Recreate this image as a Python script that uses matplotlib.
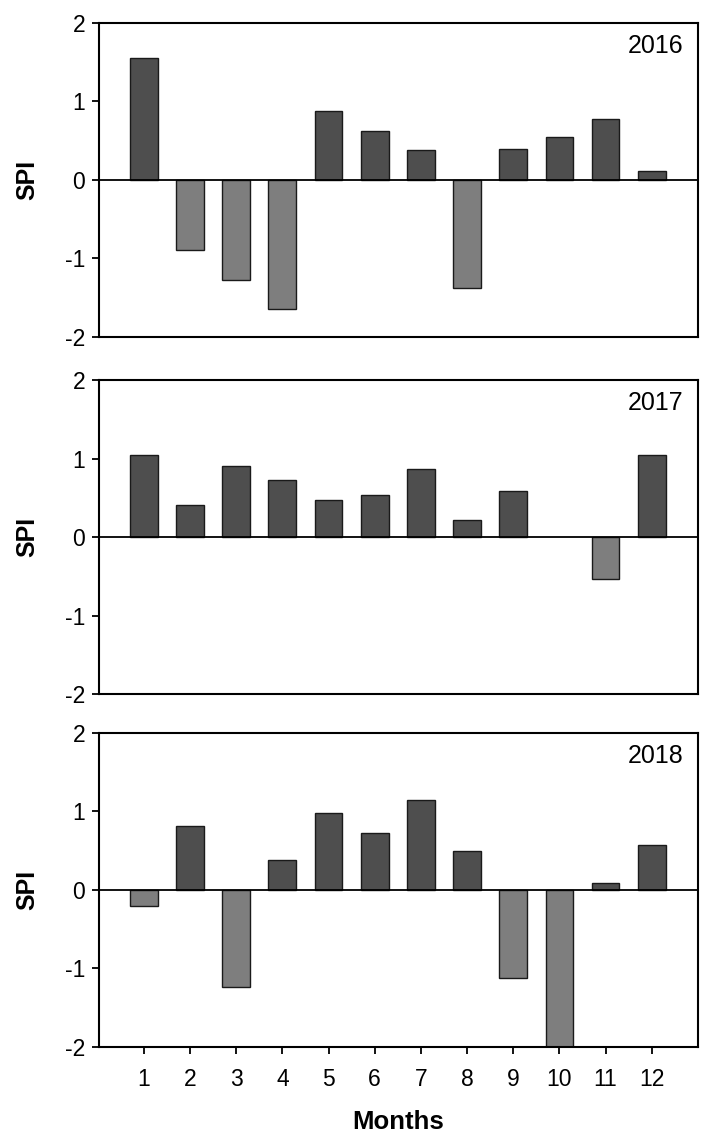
import numpy as np
import matplotlib
matplotlib.use("Agg")
import matplotlib.pyplot as plt

plt.rcParams["font.family"] = ["Liberation Sans", "DejaVu Sans"]
plt.rcParams["axes.unicode_minus"] = False

# --- Data (SPI per month) ---
months = np.arange(1, 13)
years = ["2016", "2017", "2018"]
spi_2016 = [1.55, -0.89, -1.27, -1.64, 0.88, 0.63, 0.38, -1.38, 0.39, 0.55, 0.78, 0.12]
spi_2017 = [1.04, 0.41, 0.90, 0.73, 0.47, 0.53, 0.87, 0.22, 0.58, 0.0, -0.53, 1.05]
spi_2018 = [-0.20, 0.81, -1.23, 0.38, 0.98, 0.72, 1.14, 0.50, -1.12, -2.10, 0.09, 0.57]
series = [spi_2016, spi_2017, spi_2018]

POS_COLOR = "#4e4e4e"
NEG_COLOR = "#7e7e7e"

fig = plt.figure(figsize=(7.01, 11.32), dpi=100)

# axes boxes in figure fractions
left, width, height = 0.1412, 0.8545, 0.2774
bottoms = [0.7023, 0.3869, 0.0751]

for i, (yr, vals, bot) in enumerate(zip(years, series, bottoms)):
    ax = fig.add_axes([left, bot, width, height])
    vals = np.array(vals)
    keep = vals != 0  # no bar drawn for a zero value
    colors = [POS_COLOR if v >= 0 else NEG_COLOR for v in vals[keep]]
    ax.bar(months[keep], vals[keep], width=0.6, color=colors,
           edgecolor="#1a1a1a", linewidth=1.0, zorder=2)
    ax.axhline(0, color="black", linewidth=1.3, zorder=3)

    ax.set_xlim(0.03, 13.0)
    ax.set_ylim(-2, 2)
    ax.set_yticks([-2, -1, 0, 1, 2])
    ax.tick_params(axis="y", direction="out", length=5, width=1.3,
                   labelsize=16.5, pad=5)
    for sp in ax.spines.values():
        sp.set_linewidth(1.5)

    ax.set_ylabel("SPI", fontsize=18, fontweight="bold")
    ax.yaxis.set_label_coords(-0.10, 0.5)

    ax.text(0.975, 0.965, yr, transform=ax.transAxes, ha="right", va="top",
            fontsize=18)

    if i == 2:
        ax.set_xticks(months)
        ax.tick_params(axis="x", direction="out", length=5, width=1.3,
                       labelsize=16.5, pad=10)
        ax.set_xlabel("Months", fontsize=18.5, fontweight="bold")
        ax.xaxis.set_label_coords(0.5, -0.2)
    else:
        ax.set_xticks([])

fig.savefig("out.png", dpi=100)
